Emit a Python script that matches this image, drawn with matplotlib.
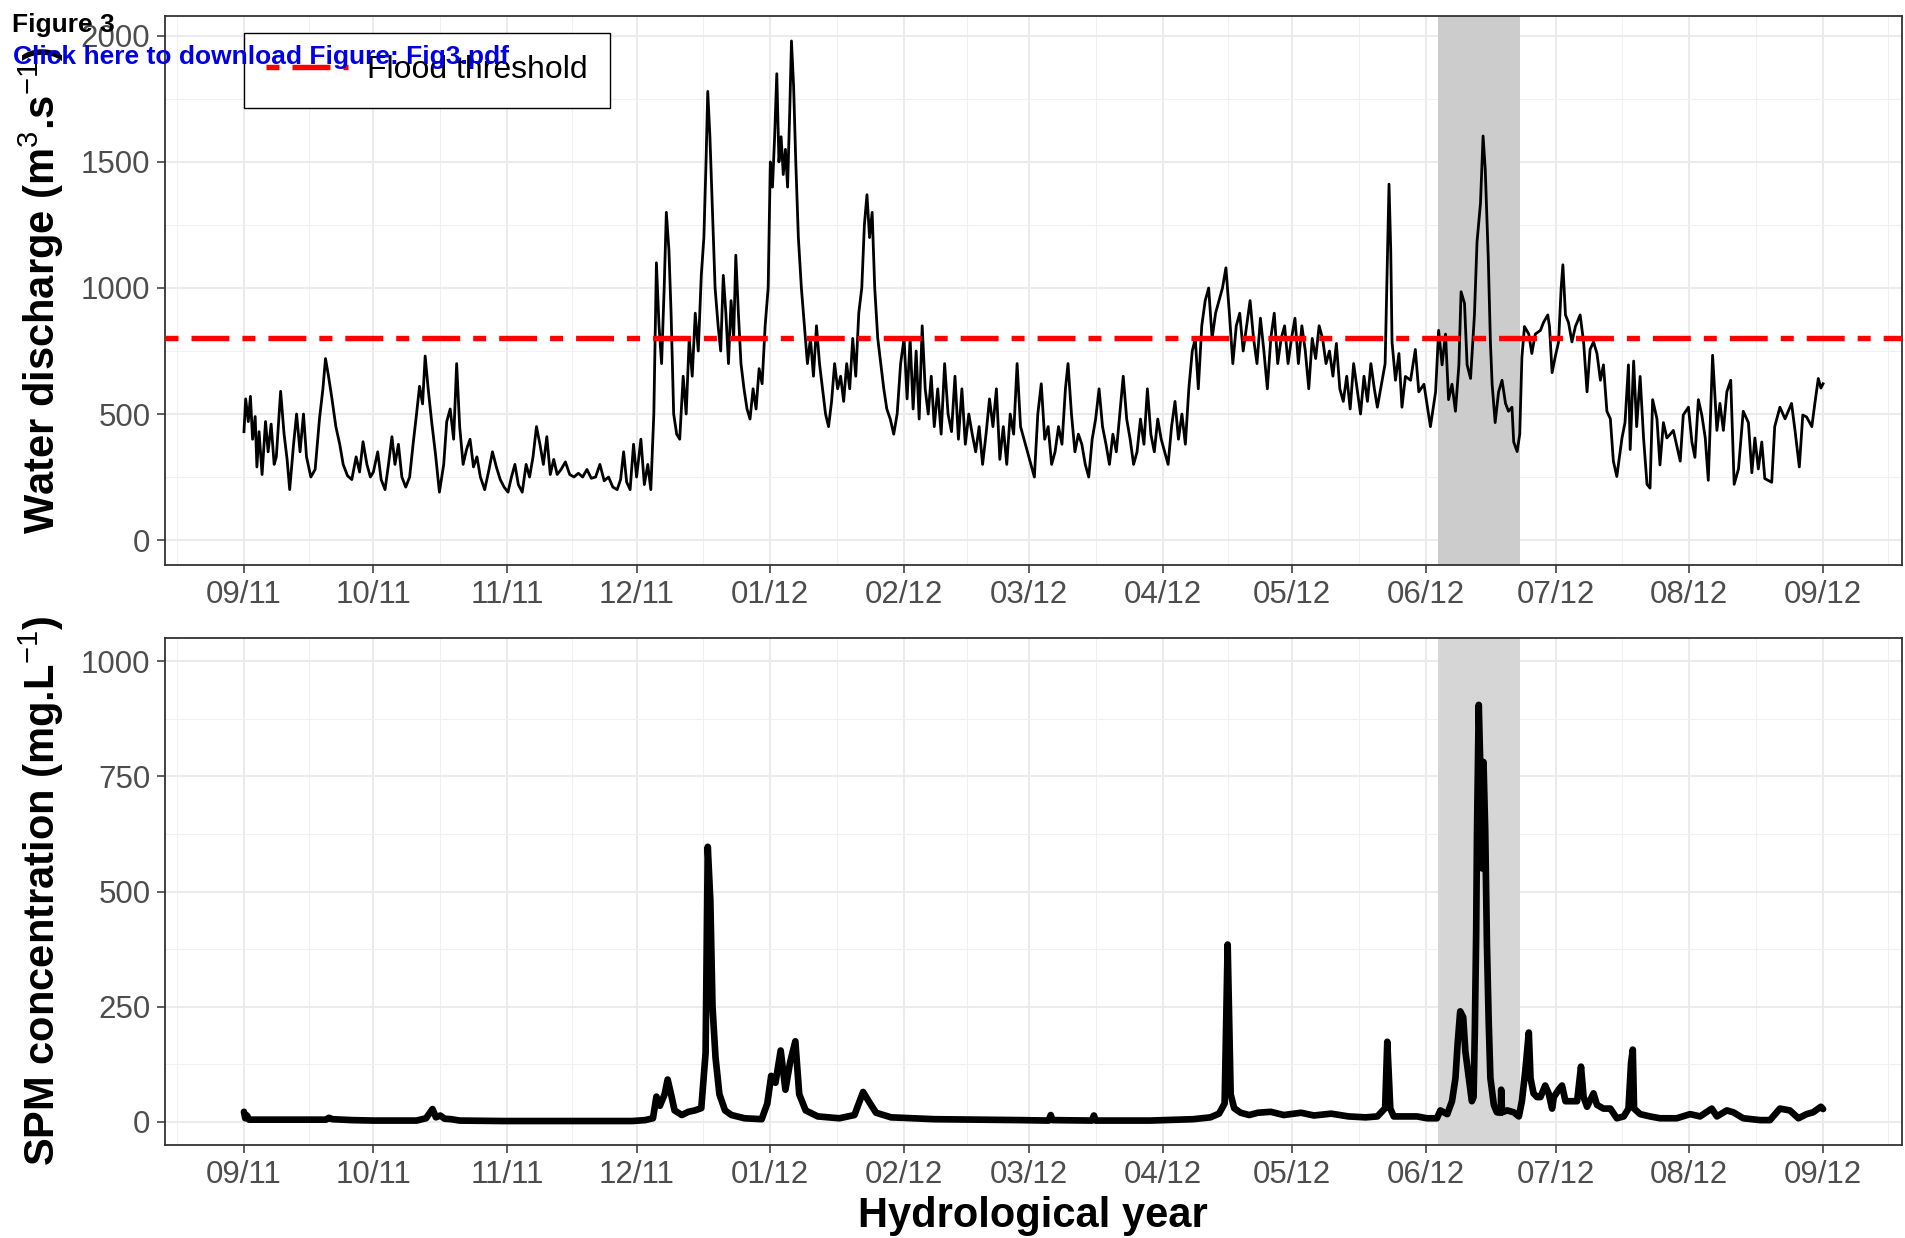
import numpy as np
import matplotlib
matplotlib.use('Agg')
import matplotlib.pyplot as plt
import matplotlib.dates as mdates

plt.rcParams['font.family'] = ['Liberation Sans', 'DejaVu Sans']
plt.rcParams['mathtext.fontset'] = 'custom'
plt.rcParams['mathtext.rm'] = 'Liberation Sans'
plt.rcParams['mathtext.it'] = 'Liberation Sans:italic'
plt.rcParams['mathtext.bf'] = 'Liberation Sans:bold'

# day offsets from 2011-09-01 and discharge (m3/s)
q_days = [0.0, 0.4, 1.0, 1.5, 2.0, 2.6, 3.0, 3.5, 4.2, 5.0, 5.6, 6.3, 7.0, 7.5, 8.5, 9.3, 10.0, 10.6, 11.5, 12.2,
          13.0, 13.8, 14.5, 15.5, 16.5, 17.5, 18.3, 18.9, 19.6, 20.4, 21.3, 22.2, 23.0, 24.0, 25.0, 26.0, 26.8, 27.6, 28.5, 29.3,
          30.0, 31.0, 31.8, 32.7, 33.5, 34.3, 35.0, 35.8, 36.6, 37.5, 38.4, 39.2, 40.0, 40.7, 41.4, 42.0, 42.7, 43.5, 44.4, 45.3,
          46.3, 47.0, 47.8, 48.6, 49.3, 50.0, 50.8, 51.6, 52.4, 53.2, 54.0, 54.8, 55.8, 56.8, 57.6, 58.5, 59.4, 60.3,
          61.2, 62.0, 62.8, 63.6, 64.5, 65.4, 66.2, 67.0, 67.8, 68.6, 69.4, 70.2, 71.0, 71.8, 72.6, 73.5, 74.5, 75.5, 76.5, 77.5,
          78.5, 79.5, 80.5, 81.5, 82.5, 83.5, 84.5, 85.5, 86.5, 87.3, 88.0, 88.7, 89.5, 90.3,
          91.0, 92.0, 92.8, 93.6, 94.3, 95.0, 95.6, 96.2, 96.8, 97.4, 97.9, 98.5, 99.0, 99.6, 100.3, 101.0, 101.8, 102.5, 103.2, 103.9,
          104.6, 105.3, 106.0, 106.6, 107.1, 107.5, 108.0, 108.6, 109.2, 109.9, 110.5, 111.1, 111.7, 112.3, 112.9, 113.5, 114.0, 114.6,
          115.2, 115.9, 116.6, 117.3, 118.0, 118.7, 119.4, 120.1, 120.8, 121.5,
          122.0, 122.5, 123.0, 123.5, 124.0, 124.5, 125.0, 125.5, 126.0, 126.5, 126.9, 127.4, 127.9, 128.5, 129.2, 129.9, 130.6, 131.3,
          132.0, 132.7, 133.4, 134.1, 134.8, 135.5, 136.2, 136.9, 137.6, 138.3, 139.0, 139.7, 140.4, 141.1, 141.8, 142.5, 143.2, 143.8,
          144.4, 145.0, 145.6, 146.2, 146.9, 147.6, 148.3, 149.0, 149.8, 150.6, 151.4, 152.2,
          153.0, 153.7, 154.4, 155.1, 155.8, 156.5, 157.2, 157.9, 158.6, 159.3, 160.0, 160.8, 161.6, 162.4, 163.2, 164.0, 164.8, 165.6,
          166.4, 167.2, 168.0, 168.8, 169.6, 170.4, 171.2, 172.0, 172.8, 173.6, 174.4, 175.2, 176.0, 176.8, 177.6, 178.4, 179.2, 180.0,
          180.8, 181.6,
          182.4, 183.2, 184.0, 184.8, 185.6, 186.4, 187.2, 188.0, 188.8, 189.6, 190.4, 191.0, 191.8, 192.6, 193.4, 194.2, 195.0, 195.8,
          196.6, 197.4, 198.2, 199.0, 199.8, 200.6, 201.4, 202.2, 203.0, 203.8, 204.6, 205.4, 206.2, 207.0, 207.8, 208.6, 209.4, 210.2,
          211.0, 211.8, 212.6,
          213.4, 214.2, 215.0, 215.8, 216.6, 217.4, 218.2, 219.0, 219.8, 220.5, 221.2, 222.0, 222.8, 223.6, 224.4, 225.2, 226.0, 226.8,
          227.6, 228.4, 229.2, 230.0, 230.8, 231.6, 232.4, 233.2, 234.0, 234.8, 235.6, 236.4, 237.2, 238.0, 238.8, 239.6, 240.4, 241.2,
          242.0,
          242.8, 243.6, 244.4, 245.2, 246.0, 246.8, 247.6, 248.4, 249.2, 250.0, 250.8, 251.6, 252.4, 253.2, 254.0, 254.8, 255.6, 256.4,
          257.2, 258.0, 258.8, 259.6, 260.4, 261.2, 262.0, 262.7, 264.5, 265.0, 265.4, 265.8, 266.1, 266.9, 267.7, 268.4, 269.2, 270.4,
          271.5, 272.3, 273.5, 275.0, 276.2, 276.9, 277.7, 278.5, 279.2, 280.0, 280.8, 281.6, 282.1, 282.9, 283.5, 284.3, 285.2, 285.8,
          286.6, 287.2, 287.7, 288.4, 288.9, 289.3, 290.0, 290.8, 291.6, 292.4, 293.1, 293.9, 294.3, 295.1, 295.7, 296.2, 296.8, 297.8,
          298.5, 299.3, 300.5, 301.2, 302.2, 302.6, 303.2, 303.9, 304.7, 305.3, 305.7, 306.3, 307.0, 307.8, 308.6, 309.7, 310.5, 311.3,
          312.0, 312.8, 313.6, 314.4, 315.1, 315.9, 316.7, 317.4, 318.2, 319.4, 320.1, 320.9, 321.3, 322.1, 322.8, 323.6, 324.4, 325.2,
          325.9, 326.5, 327.5, 328.2, 329.0, 329.8, 330.6, 331.3, 332.1, 332.9, 333.6, 334.8, 335.6, 336.3, 337.1, 337.9, 338.7, 339.4,
          340.4, 341.4, 342.1, 342.9, 343.7, 344.6, 345.4, 346.4, 347.5, 348.7, 349.5, 350.2, 351.0, 351.8, 352.5, 354.1, 354.8, 356.0,
          357.2, 358.7, 359.5, 360.5, 361.3, 362.2, 363.4, 364.1, 364.9, 365.5, 366.0]
q_vals = [430, 560, 470, 570, 400, 490, 290, 430, 260, 470, 350, 460, 300, 330, 590, 420, 320, 200, 380, 500,
          350, 500, 330, 250, 280, 480, 600, 720, 650, 560, 450, 380, 300, 255, 240, 330, 270, 390, 300, 250,
          270, 350, 240, 200, 300, 410, 300, 380, 250, 210, 250, 380, 500, 610, 540, 730, 600, 470, 340, 190,
          300, 470, 520, 400, 700, 450, 300, 360, 400, 290, 330, 250, 200, 280, 350, 290, 240, 210,
          190, 250, 300, 220, 190, 300, 250, 330, 450, 380, 300, 410, 260, 320, 260, 280, 310, 260, 250, 265,
          250, 280, 245, 250, 300, 235, 250, 210, 200, 240, 350, 230, 200, 380,
          250, 400, 220, 300, 200, 500, 1100, 850, 700, 1000, 1300, 1150, 900, 500, 420, 400, 650, 500, 800, 650,
          900, 750, 1050, 1200, 1500, 1780, 1600, 1300, 1000, 850, 750, 1050, 900, 700, 950, 800, 1130, 900,
          700, 600, 520, 480, 600, 520, 680, 620, 850, 1000,
          1500, 1400, 1600, 1850, 1500, 1600, 1450, 1550, 1400, 1700, 1980, 1800, 1500, 1200, 1000, 850, 700, 800,
          650, 850, 700, 600, 500, 450, 550, 700, 600, 650, 550, 700, 600, 800, 650, 900, 1000, 1250,
          1370, 1200, 1300, 1000, 800, 700, 600, 520, 480, 420, 500, 700,
          800, 560, 800, 520, 750, 480, 850, 600, 500, 650, 450, 600, 420, 700, 500, 430, 650, 400,
          600, 380, 500, 420, 350, 450, 300, 420, 560, 450, 600, 320, 450, 300, 500, 420, 700, 450,
          400, 350,
          300, 250, 500, 620, 400, 450, 300, 350, 450, 380, 600, 700, 500, 350, 420, 380, 300, 250,
          400, 480, 600, 450, 380, 300, 420, 350, 500, 650, 480, 400, 300, 350, 480, 380, 600, 420,
          350, 480, 400,
          350, 300, 450, 550, 400, 500, 380, 600, 750, 800, 600, 850, 950, 1000, 800, 900, 950, 1000,
          1080, 900, 700, 850, 900, 750, 850, 950, 800, 700, 880, 750, 600, 800, 900, 700, 800, 850,
          700,
          800, 880, 700, 850, 750, 600, 800, 720, 850, 800, 700, 750, 650, 780, 600, 550, 650, 520,
          700, 600, 500, 650, 550, 700, 600, 527, 700, 1100, 1412, 1150, 786, 634, 740, 527, 649, 634,
          756, 588, 618, 450, 588, 832, 695, 817, 557, 618, 511, 695, 985, 939, 695, 641, 893, 1183,
          1336, 1603, 1473, 1122, 786, 618, 466, 588, 634, 542, 511, 527, 389, 351, 420, 725, 847, 817,
          740, 817, 832, 863, 893, 847, 664, 725, 786, 1000, 1092, 893, 863, 786, 847, 893, 786, 588,
          756, 786, 740, 634, 695, 511, 481, 313, 252, 405, 466, 695, 359, 710, 450, 649, 405, 221,
          206, 557, 481, 298, 466, 405, 420, 435, 374, 313, 496, 527, 389, 328, 557, 496, 405, 237,
          733, 435, 542, 435, 588, 634, 221, 282, 511, 466, 267, 405, 282, 389, 244, 229, 450, 527,
          481, 542, 435, 290, 496, 488, 450, 542, 641, 603, 620]

# day offsets and SPM concentration (mg/L)
spm_days = [0.0, 0.3, 0.7, 1.2, 3, 10, 19, 19.7, 20.5, 25, 30, 35, 40, 42.2, 43.7, 44.5, 45.5, 46.5, 48, 50,
            60, 70, 80, 90, 93, 94.8, 95.6, 96.4, 97.5, 98.2, 99.0, 99.8, 101.5, 103, 104.5, 106, 107, 107.5, 108.1, 108.6,
            109.3, 110.2, 111.5, 113, 116, 120, 121.3, 122.2, 123.2, 124.4, 125.5, 126.6, 127.8, 128.7, 130.2, 133, 138, 141.5, 143.5, 144.8,
            146.5, 150, 160, 170, 180, 186.5, 187.0, 187.4, 196.5, 197.0, 197.4, 210, 220, 224, 226, 227.3, 228.0, 228.7, 229.5, 231,
            233, 235, 238, 241, 245, 248, 252, 256, 260, 262.7, 264.5, 265.0, 265.7, 266.5, 269.6, 271.9, 274.2, 276.5, 277.3, 278.9,
            280.0, 280.8, 281.3, 281.9, 282.6, 283.1, 283.9, 284.6, 285.0, 285.3, 285.6, 285.8, 286.2, 286.6, 287.0, 287.3, 287.7, 288.1, 288.5, 288.9,
            289.7, 290.4, 291.3, 291.4, 291.6, 292.8, 294.3, 295.5, 296.2, 297.0, 297.8, 298.2, 298.9, 299.7, 300.5, 301.6, 302.4, 303.2, 303.6, 304.7,
            305.5, 306.3, 307.8, 309.0, 309.9, 310.5, 311.3, 312.8, 313.6, 315.1, 316.7, 318.2, 319.8, 320.9, 321.5, 321.9, 322.2, 323.6, 325.9, 328.2,
            332.1, 335.2, 337.5, 340.2, 341.4, 343.7, 345.2, 347.5, 351.4, 353.7, 356.0, 358.3, 360.3, 362.2, 363.7, 365.5, 366.0]
spm_vals = [22, 8, 14, 5, 5, 5, 5, 9, 6, 4, 3, 3, 3, 8, 28, 10, 14, 7, 6, 3,
            2, 2, 2, 2, 4, 8, 55, 35, 60, 92, 60, 25, 15, 22, 25, 30, 150, 597, 480, 250,
            140, 60, 25, 15, 8, 6, 40, 100, 85, 155, 70, 130, 175, 60, 25, 12, 8, 15, 65, 45,
            20, 10, 6, 5, 4, 3, 15, 4, 3, 14, 3, 3, 6, 10, 18, 40, 385, 60, 30, 20,
            15, 20, 22, 15, 20, 14, 18, 12, 10, 12, 30, 174, 29, 12, 12, 12, 8, 8, 25, 17,
            45, 95, 169, 240, 227, 153, 95, 45, 54, 202, 409, 632, 905, 756, 550, 781, 632, 384, 219, 95,
            37, 21, 20, 70, 21, 25, 21, 12, 45, 112, 194, 95, 62, 54, 54, 79, 62, 29, 54, 70,
            79, 45, 45, 45, 120, 54, 33, 62, 37, 29, 29, 8, 12, 29, 128, 157, 29, 17, 12, 8,
            8, 17, 12, 29, 12, 25, 21, 8, 4, 4, 29, 25, 8, 17, 21, 33, 28]

flood_threshold = 800
event_days = [276.8, 295.8]
month_ticks = ['2011-09-01', '2011-10-01', '2011-11-01', '2011-12-01', '2012-01-01', '2012-02-01', '2012-03-01',
               '2012-04-01', '2012-05-01', '2012-06-01', '2012-07-01', '2012-08-01', '2012-09-01']

start = np.datetime64('2011-09-01T00:00:00')


def to_dates(days):
    return start + (np.asarray(days, dtype=float) * 86400).astype('timedelta64[s]')


major = mdates.date2num(np.array(month_ticks, dtype='datetime64[D]'))
mids = (major[:-1] + major[1:]) / 2
minor = np.concatenate([[major[0] - 15.5], mids, [major[-1] + 15]])

W, H = 1905, 1238
fig = plt.figure(figsize=(W / 100, H / 100), dpi=100)
ax1 = fig.add_axes([165 / W, 1 - 565 / H, 1737 / W, 549 / H])
ax2 = fig.add_axes([165 / W, 1 - 1145 / H, 1737 / W, 507 / H])

x0 = mdates.date2num(to_dates([-18.3])[0])
x1 = mdates.date2num(to_dates([384.3])[0])

for ax in (ax1, ax2):
    for s in ax.spines.values():
        s.set_color('#333333')
        s.set_linewidth(1.3)
    ax.set_xlim(x0, x1)
    ax.xaxis.set_major_locator(matplotlib.ticker.FixedLocator(major))
    ax.xaxis.set_minor_locator(matplotlib.ticker.FixedLocator(minor))
    ax.xaxis.set_major_formatter(mdates.DateFormatter('%m/%y'))
    ax.grid(which='major', color='#ebebeb', lw=1.5)
    ax.grid(which='minor', color='#f0f0f0', lw=0.8)
    ax.set_axisbelow(True)
    ax.tick_params(which='major', length=5.5, width=1.1, color='#333333',
                   labelsize=22.5, labelcolor='#4d4d4d', pad=5)
    ax.tick_params(which='minor', length=0)
    ev = to_dates(event_days)
    ax.axvspan(ev[0], ev[1], color='#cccccc' if ax is ax1 else '#d6d6d6', lw=0, zorder=1)

# top panel: discharge
ax1.plot(to_dates(q_days), q_vals, color='black', lw=2.0, zorder=2)
ax1.axhline(flood_threshold, color='red', lw=3.9, ls=(0, (2.4, 2.4, 7, 2.4)),
            label='Flood threshold', zorder=3)
ax1.set_ylim(-99, 2079)
ax1.set_yticks([0, 500, 1000, 1500, 2000])
ax1.set_yticks([250, 750, 1250, 1750], minor=True)

leg = ax1.legend(loc='upper left', bbox_to_anchor=(244 / W, 1 - 33 / H), bbox_transform=fig.transFigure,
                 fancybox=False, edgecolor='black', framealpha=1, fontsize=23,
                 handlelength=2.55, handletextpad=0.6, borderpad=0.7, borderaxespad=0)
leg.get_frame().set_linewidth(1.0)

# bottom panel: SPM
ax2.plot(to_dates(spm_days), spm_vals, color='black', lw=4.8, zorder=2,
         solid_joinstyle='round', solid_capstyle='round')
ax2.set_ylim(-50, 1050)
ax2.set_yticks([0, 250, 500, 750, 1000])
ax2.set_yticks([125, 375, 625, 875], minor=True)

fig.text(41 / W, 1 - 290 / H, 'Water discharge (m$^{3}$.s$^{-1}$)', rotation=90,
         ha='center', va='center', fontsize=30, fontweight='bold')
fig.text(41 / W, 1 - 891 / H, 'SPM concentration (mg.L$^{-1}$)', rotation=90,
         ha='center', va='center', fontsize=30, fontweight='bold')
fig.text(1033 / W, 1 - 1216 / H, 'Hydrological year', ha='center', va='center',
         fontsize=30, fontweight='bold')

fig.text(12 / W, 1 - 32 / H, 'Figure 3', fontsize=19, fontweight='bold', va='baseline', zorder=10)
fig.text(13 / W, 1 - 64 / H, 'Click here to download Figure: Fig3.pdf', fontsize=19,
         fontweight='bold', color='#0000e6', va='baseline', zorder=10)

fig.savefig('out.png', dpi=100)
